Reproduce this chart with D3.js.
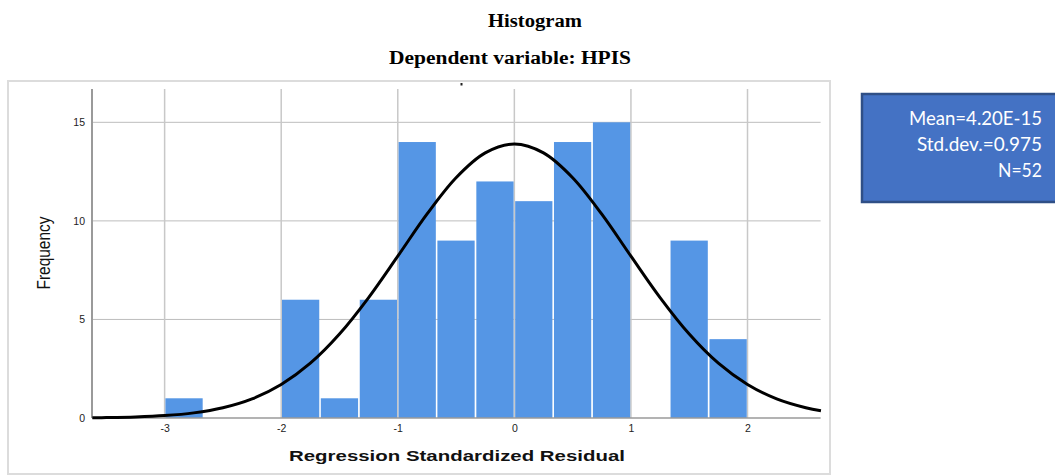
<!DOCTYPE html>
<html>
<head>
<meta charset="utf-8">
<script src="https://cdn.jsdelivr.net/npm/d3@7"></script>
<style>
  body { margin: 0; background: #fff; }
  svg { display: block; }
</style>
</head>
<body>
<svg id="chart" width="1055" height="475"></svg>
<script>
// bins are 1/3 wide, lower edge of each bin
var binStart = [-3.000, -2.667, -2.333, -2.000, -1.667, -1.333, -1.000, -0.667, -0.333, 0.000, 0.333, 0.667, 1.000, 1.333, 1.667];
var counts   = [1, 0, 0, 6, 1, 6, 14, 9, 12, 11, 14, 15, 0, 9, 4];
var binWidth = 0.3333;

// normal curve
var curveX = [-3.62, -3.5, -3.25, -3, -2.75, -2.5, -2.25, -2, -1.75, -1.5, -1.25, -1, -0.75, -0.5, -0.25, 0,
              0.25, 0.5, 0.75, 1, 1.25, 1.5, 1.75, 2, 2.25, 2.5, 2.63];
var curveY = [0.014, 0.022, 0.054, 0.122, 0.26, 0.52, 0.97, 1.70, 2.78, 4.26, 6.11, 8.21, 10.34, 12.19, 13.45, 13.9,
              13.45, 12.19, 10.34, 8.21, 6.11, 4.26, 2.78, 1.70, 0.97, 0.52, 0.365];

var xTicks = [-3, -2, -1, 0, 1, 2];
var yTicks = [0, 5, 10, 15];
var legendLines = ['Mean=4.20E-15', 'Std.dev.=0.975', 'N=52'];

var svg = d3.select('#chart');

var x = d3.scaleLinear().domain([-3.623, 2.627]).range([92, 820.6]);
var y = d3.scaleLinear().domain([0, 16.69]).range([418, 89]);

// outer frame
svg.append('rect')
    .attr('x', 8).attr('y', 81).attr('width', 822).attr('height', 393)
    .attr('fill', '#fff').attr('stroke', '#dcdcdc').attr('stroke-width', 2);

// titles
svg.append('text')
    .attr('x', 488).attr('y', 27)
    .attr('textLength', 94).attr('lengthAdjust', 'spacingAndGlyphs')
    .style('font', 'bold 18.5px "Liberation Serif", "Times New Roman", serif')
    .text('Histogram');
svg.append('text')
    .attr('x', 389).attr('y', 64)
    .attr('textLength', 242).attr('lengthAdjust', 'spacingAndGlyphs')
    .style('font', 'bold 18.5px "Liberation Serif", "Times New Roman", serif')
    .text('Dependent variable: HPIS');

// grid
svg.append('g')
  .selectAll('line')
    .data(yTicks.slice(1))
  .enter().append('line')
    .attr('x1', x.range()[0]).attr('x2', x.range()[1])
    .attr('y1', function(d) { return y(d); })
    .attr('y2', function(d) { return y(d); })
    .attr('stroke', '#bdbdbd').attr('stroke-width', 1);
svg.append('g')
  .selectAll('line')
    .data(xTicks)
  .enter().append('line')
    .attr('x1', function(d) { return x(d); })
    .attr('x2', function(d) { return x(d); })
    .attr('y1', y.range()[1]).attr('y2', y(0))
    .attr('stroke', '#c8c8c8').attr('stroke-width', 1.5);

// bars
svg.append('g')
  .selectAll('rect')
    .data(counts)
  .enter().append('rect')
    .attr('x', function(d, i) { return x(binStart[i]) + 0.8; })
    .attr('width', function(d, i) { return x(binStart[i] + binWidth) - x(binStart[i]) - 1.6; })
    .attr('y', function(d) { return y(d); })
    .attr('height', function(d) { return y(0) - y(d); })
    .attr('fill', '#5596e5');

// axes lines
svg.append('line')
    .attr('x1', x.range()[0]).attr('x2', x.range()[0])
    .attr('y1', y.range()[1]).attr('y2', y(0))
    .attr('stroke', '#9a9a9a').attr('stroke-width', 2);
svg.append('line')
    .attr('x1', x.range()[0]).attr('x2', x.range()[1])
    .attr('y1', y(0)).attr('y2', y(0))
    .attr('stroke', '#9a9a9a').attr('stroke-width', 1.5);

// small stray tick at top
svg.append('rect')
    .attr('x', 460.5).attr('y', 83).attr('width', 2).attr('height', 2.5).attr('fill', '#222');

// tick labels via axes
var yAxis = svg.append('g')
    .attr('transform', 'translate(' + x.range()[0] + ',0)')
    .call(d3.axisLeft(y).tickValues(yTicks).tickSize(0).tickPadding(7));
var xAxis = svg.append('g')
    .attr('transform', 'translate(0,' + y(0) + ')')
    .call(d3.axisBottom(x).tickValues(xTicks).tickSize(0).tickPadding(7)
      .tickFormat(function(d) { return d < 0 ? '-' + Math.abs(d) : d; }));
[yAxis, xAxis].forEach(function(a) {
  a.select('.domain').remove();
  a.selectAll('text')
      .style('font-family', '"Liberation Sans", Arial, sans-serif')
      .style('font-size', '10.5px')
      .attr('fill', '#222');
});

// normal curve
var line = d3.line()
    .x(function(d, i) { return x(curveX[i]); })
    .y(function(d) { return y(d); })
    .curve(d3.curveCatmullRom);
svg.append('path')
    .datum(curveY)
    .attr('d', line)
    .attr('fill', 'none')
    .attr('stroke', '#000')
    .attr('stroke-width', 3);

// axis titles
svg.append('text')
    .attr('x', 289).attr('y', 461)
    .attr('textLength', 336).attr('lengthAdjust', 'spacingAndGlyphs')
    .style('font', 'bold 15px "Liberation Sans", Arial, sans-serif')
    .attr('fill', '#111')
    .text('Regression Standardized Residual');
svg.append('text')
    .attr('transform', 'translate(50,253) rotate(-90) scale(1,1.25)')
    .attr('text-anchor', 'middle')
    .attr('textLength', 73).attr('lengthAdjust', 'spacingAndGlyphs')
    .style('font', '15px "Liberation Sans", Arial, sans-serif')
    .attr('fill', '#111')
    .text('Frequency');

// legend box
svg.append('rect')
    .attr('x', 862).attr('y', 94).attr('width', 200).attr('height', 108)
    .attr('fill', '#4472c4').attr('stroke', '#2f4f86').attr('stroke-width', 2.5);
var lineLen = [133, 125, 44];
svg.append('g')
  .selectAll('text')
    .data(legendLines)
  .enter().append('text')
    .attr('x', function(d, i) { return 1042 - lineLen[i]; })
    .attr('y', function(d, i) { return 125 + i * 26; })
    .attr('textLength', function(d, i) { return lineLen[i]; })
    .attr('lengthAdjust', 'spacingAndGlyphs')
    .style('font', '20px Lato, "Open Sans", sans-serif')
    .attr('fill', '#fff')
    .text(function(d) { return d; });
</script>
</body>
</html>
